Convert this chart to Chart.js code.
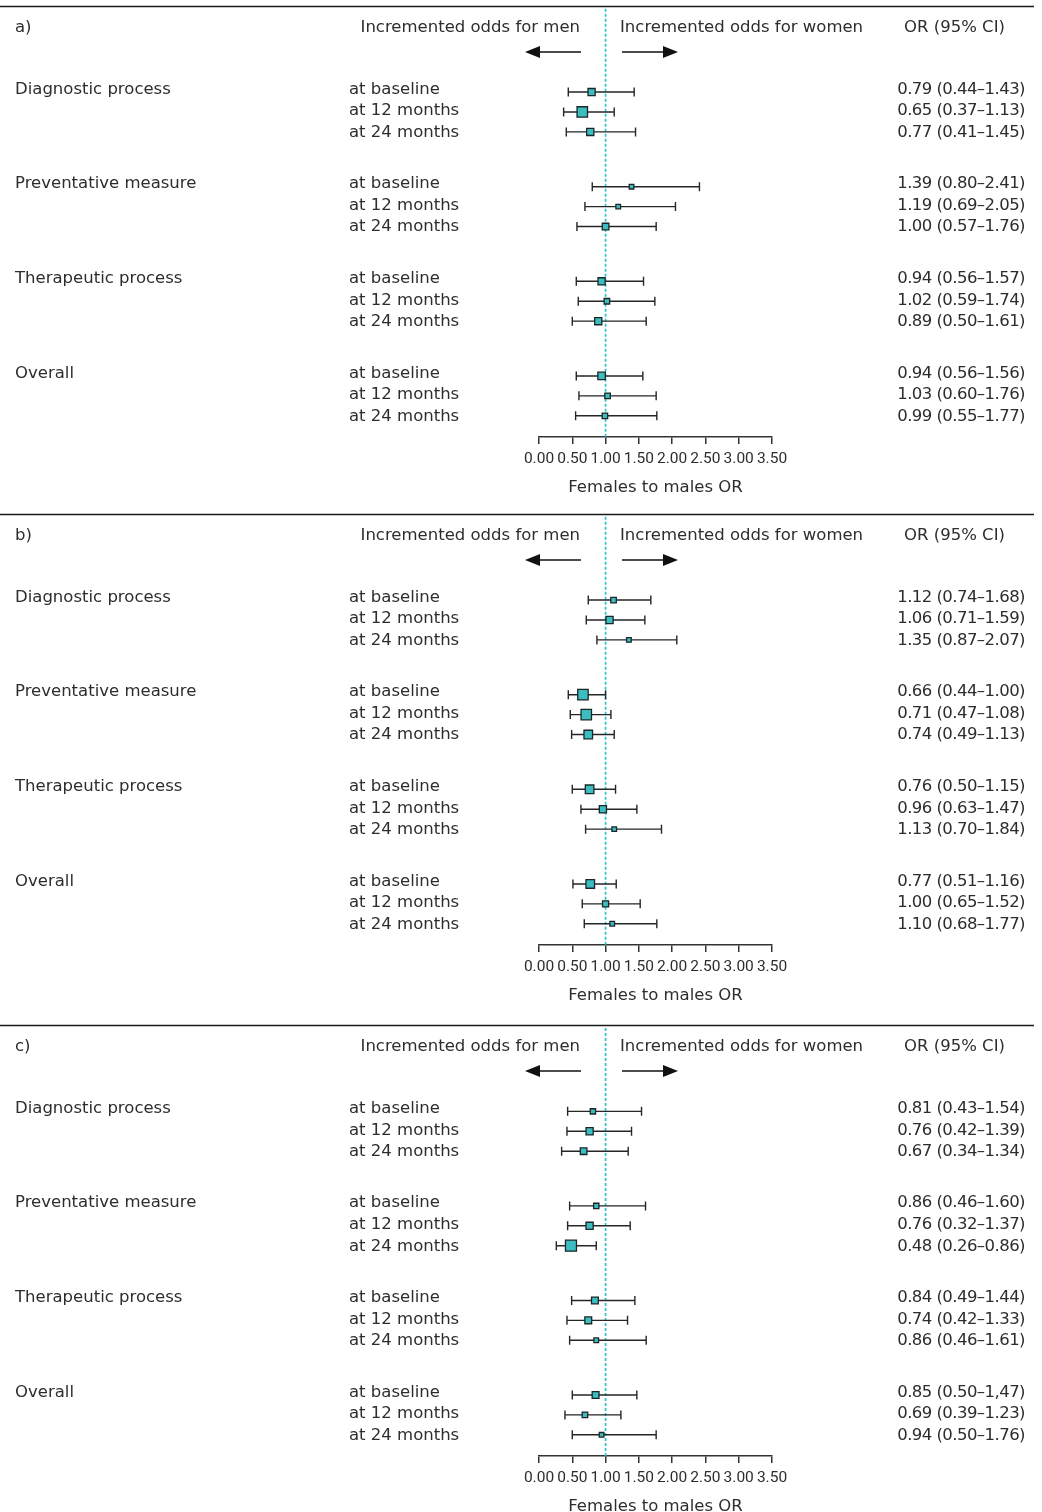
<!DOCTYPE html>
<html>
<head>
<meta charset="utf-8">
<title>Females to males OR</title>
<script src="https://cdn.jsdelivr.net/npm/chart.js@4.4.0/dist/chart.umd.min.js"></script>
<style>
  html, body { margin: 0; padding: 0; background: #fff; overflow: hidden; }
  #wrap { position: relative; width: 1042px; height: 1512px; overflow: hidden; }
  #wrap canvas { position: absolute; left: 0; }
</style>
</head>
<body>
<div id="wrap"></div>
<script>
// ---- data ----
const panelLetters = ['a)', 'b)', 'c)'];
const groups = ['Diagnostic process', 'Preventative measure', 'Therapeutic process', 'Overall'];
const timepoints = ['at baseline', 'at 12 months', 'at 24 months'];
const xTicks = [0, 0.5, 1, 1.5, 2, 2.5, 3, 3.5];

// panel a
const orA = [0.79, 0.65, 0.77, 1.39, 1.19, 1.00, 0.94, 1.02, 0.89, 0.94, 1.03, 0.99];
const loA = [0.44, 0.37, 0.41, 0.80, 0.69, 0.57, 0.56, 0.59, 0.50, 0.56, 0.60, 0.55];
const hiA = [1.43, 1.13, 1.45, 2.41, 2.05, 1.76, 1.57, 1.74, 1.61, 1.56, 1.76, 1.77];
const weightA = [0.65, 0.95, 0.65, 0.42, 0.42, 0.60, 0.65, 0.50, 0.65, 0.68, 0.50, 0.50];
const ciA = ['0.79 (0.44–1.43)', '0.65 (0.37–1.13)', '0.77 (0.41–1.45)',
             '1.39 (0.80–2.41)', '1.19 (0.69–2.05)', '1.00 (0.57–1.76)',
             '0.94 (0.56–1.57)', '1.02 (0.59–1.74)', '0.89 (0.50–1.61)',
             '0.94 (0.56–1.56)', '1.03 (0.60–1.76)', '0.99 (0.55–1.77)'];

// panel b
const orB = [1.12, 1.06, 1.35, 0.66, 0.71, 0.74, 0.76, 0.96, 1.13, 0.77, 1.00, 1.10];
const loB = [0.74, 0.71, 0.87, 0.44, 0.47, 0.49, 0.50, 0.63, 0.70, 0.51, 0.65, 0.68];
const hiB = [1.68, 1.59, 2.07, 1.00, 1.08, 1.13, 1.15, 1.47, 1.84, 1.16, 1.52, 1.77];
const weightB = [0.50, 0.65, 0.42, 0.95, 0.95, 0.78, 0.78, 0.65, 0.42, 0.78, 0.55, 0.42];
const ciB = ['1.12 (0.74–1.68)', '1.06 (0.71–1.59)', '1.35 (0.87–2.07)',
             '0.66 (0.44–1.00)', '0.71 (0.47–1.08)', '0.74 (0.49–1.13)',
             '0.76 (0.50–1.15)', '0.96 (0.63–1.47)', '1.13 (0.70–1.84)',
             '0.77 (0.51–1.16)', '1.00 (0.65–1.52)', '1.10 (0.68–1.77)'];

// panel c
const orC = [0.81, 0.76, 0.67, 0.86, 0.76, 0.48, 0.84, 0.74, 0.86, 0.85, 0.69, 0.94];
const loC = [0.43, 0.42, 0.34, 0.46, 0.43, 0.26, 0.49, 0.42, 0.46, 0.50, 0.39, 0.50];
const hiC = [1.54, 1.39, 1.34, 1.60, 1.37, 0.86, 1.44, 1.33, 1.61, 1.47, 1.23, 1.76];
const weightC = [0.48, 0.65, 0.60, 0.48, 0.65, 1.00, 0.62, 0.62, 0.42, 0.62, 0.50, 0.42];
const ciC = ['0.81 (0.43–1.54)', '0.76 (0.42–1.39)', '0.67 (0.34–1.34)',
             '0.86 (0.46–1.60)', '0.76 (0.32–1.37)', '0.48 (0.26–0.86)',
             '0.84 (0.49–1.44)', '0.74 (0.42–1.33)', '0.86 (0.46–1.61)',
             '0.85 (0.50–1,47)', '0.69 (0.39–1.23)', '0.94 (0.50–1.76)'];

// ---- layout ----
const FONT = '"DejaVu Sans", sans-serif';
const TICK_FONT = 'Roboto, "DejaVu Sans", sans-serif';
const INK = '#2d2d2d';
const TEAL = '#3cbdc1';
const PANEL_TOP = [0, 508, 1019];
const PANEL_H = 510;
const ROW_PX = 20;          // px per y unit
const GROUP_GAP = 4.75;     // y units between groups
const FIRST_ROW = 4.185;    // y units from plot top to first row
const MAX_SIDE = 11;        // marker side for weight 1

function rowValue(k) { return Math.floor(k / 3) * GROUP_GAP + (k % 3); }

function makeForestPlugin(p) {
  return {
    id: 'forest',
    beforeDatasetsDraw(chart) {
      const { ctx, chartArea, scales: { x, y } } = chart;
      ctx.save();
      // top rule
      ctx.strokeStyle = '#1a1a1a';
      ctx.lineWidth = 1.5;
      ctx.beginPath(); ctx.moveTo(0, 6.5); ctx.lineTo(1034, 6.5); ctx.stroke();
      // line of no effect
      const x1 = x.getPixelForValue(1);
      ctx.strokeStyle = '#2fc4c9';
      ctx.lineWidth = 1.7;
      ctx.setLineDash([3, 2]);
      ctx.beginPath(); ctx.moveTo(x1, chartArea.top); ctx.lineTo(x1, chartArea.bottom); ctx.stroke();
      ctx.setLineDash([]);
      // confidence intervals
      ctx.strokeStyle = '#262626';
      ctx.lineWidth = 1.4;
      p.lo.forEach((lo, k) => {
        const yy = y.getPixelForValue(rowValue(k));
        const xl = x.getPixelForValue(lo);
        const xh = x.getPixelForValue(p.hi[k]);
        ctx.beginPath();
        ctx.moveTo(xl, yy); ctx.lineTo(xh, yy);
        ctx.moveTo(xl, yy - 4.5); ctx.lineTo(xl, yy + 4.5);
        ctx.moveTo(xh, yy - 4.5); ctx.lineTo(xh, yy + 4.5);
        ctx.stroke();
      });
      ctx.restore();
    },
    afterDraw(chart) {
      const { ctx, scales: { y } } = chart;
      ctx.save();
      ctx.fillStyle = INK;
      ctx.font = '16.5px ' + FONT;
      ctx.textBaseline = 'middle';

      // header
      const hy = 28;
      ctx.textAlign = 'left';
      ctx.fillText(p.letter, 15, hy);
      ctx.textAlign = 'right';
      ctx.fillText('Incremented odds for men', 580, hy);
      ctx.textAlign = 'left';
      ctx.fillText('Incremented odds for women', 620, hy);
      ctx.textAlign = 'center';
      ctx.fillText('OR (95% CI)', 954.5, hy);

      // arrows
      ctx.strokeStyle = '#111';
      ctx.fillStyle = '#111';
      ctx.lineWidth = 1.5;
      const ay = 52;
      ctx.beginPath(); ctx.moveTo(581, ay); ctx.lineTo(536, ay); ctx.stroke();
      ctx.beginPath(); ctx.moveTo(525, ay); ctx.lineTo(540, ay - 6); ctx.lineTo(540, ay + 6); ctx.closePath(); ctx.fill();
      ctx.beginPath(); ctx.moveTo(622, ay); ctx.lineTo(667, ay); ctx.stroke();
      ctx.beginPath(); ctx.moveTo(678, ay); ctx.lineTo(663, ay - 6); ctx.lineTo(663, ay + 6); ctx.closePath(); ctx.fill();

      // row texts
      ctx.fillStyle = INK;
      groups.forEach((g, gi) => {
        const mid = y.getPixelForValue(gi * GROUP_GAP + 1) - 1;
        ctx.textAlign = 'left';
        ctx.letterSpacing = '0px';
        ctx.fillText(g, 15, mid - 21.6);
        timepoints.forEach((t, ti) => {
          const ty = mid + (ti - 1) * 21.6;
          ctx.textAlign = 'left';
          ctx.letterSpacing = '0px';
          ctx.fillText(t, 349, ty);
          ctx.textAlign = 'right';
          ctx.letterSpacing = '-0.55px';
          ctx.fillText(p.ci[gi * 3 + ti], 1025, ty);
        });
      });
      ctx.restore();
    }
  };
}

function makePanel(idx, or, lo, hi, weight, ci) {
  const canvas = document.createElement('canvas');
  canvas.width = 1042;
  canvas.height = PANEL_H;
  canvas.style.top = PANEL_TOP[idx] + 'px';
  document.getElementById('wrap').appendChild(canvas);

  const plotTop = 7;
  const plotH = 430;
  const yMin = -FIRST_ROW;
  const yMax = plotH / ROW_PX - FIRST_ROW;

  new Chart(canvas.getContext('2d'), {
    type: 'scatter',
    data: {
      datasets: [{
        data: or.map((v, k) => ({ x: v, y: rowValue(k) })),
        pointStyle: 'rect',
        pointRadius: weight.map(w => (w * MAX_SIDE) / Math.SQRT2),
        backgroundColor: TEAL,
        borderColor: '#1b2626',
        borderWidth: 1.3
      }]
    },
    options: {
      responsive: false,
      animation: false,
      events: [],
      layout: { padding: { left: 539, right: 270, top: plotTop, bottom: 0 } },
      plugins: { legend: { display: false }, tooltip: { enabled: false } },
      scales: {
        x: {
          type: 'linear',
          min: 0,
          max: 3.5,
          afterBuildTicks: s => { s.ticks = xTicks.map(v => ({ value: v })); },
          afterFit: s => { s.height = PANEL_H - plotTop - plotH; },
          border: { display: true, color: '#333', width: 1.5 },
          grid: { display: true, drawOnChartArea: false, drawTicks: true, tickLength: 7, color: '#333', lineWidth: 1.5 },
          ticks: {
            autoSkip: false, maxRotation: 0, minRotation: 0, padding: 6,
            color: INK, font: { family: TICK_FONT, size: 15.5 },
            callback: v => Number(v).toFixed(2)
          },
          title: {
            display: true, text: 'Females to males OR', color: INK,
            font: { family: FONT, size: 16.5 }, padding: { top: 0, bottom: 12 }
          }
        },
        y: { type: 'linear', display: false, reverse: true, min: yMin, max: yMax }
      }
    },
    plugins: [makeForestPlugin({ letter: panelLetters[idx], lo, hi, ci })]
  });
}

makePanel(0, orA, loA, hiA, weightA, ciA);
makePanel(1, orB, loB, hiB, weightB, ciB);
makePanel(2, orC, loC, hiC, weightC, ciC);
</script>
</body>
</html>
